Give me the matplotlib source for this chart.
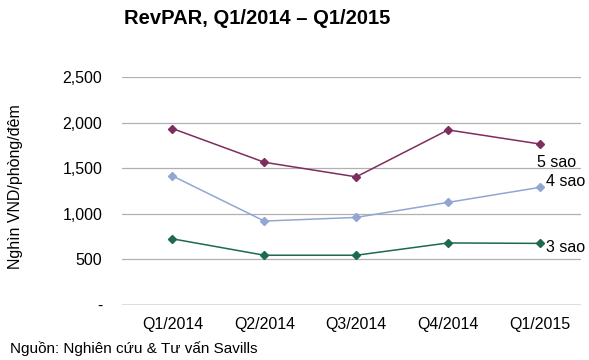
import matplotlib.pyplot as plt
from matplotlib.ticker import FuncFormatter

plt.rcParams['font.family'] = ['Liberation Sans', 'DejaVu Sans']

quarters = ['Q1/2014', 'Q2/2014', 'Q3/2014', 'Q4/2014', 'Q1/2015']
five_star = [1935, 1565, 1405, 1920, 1765]
four_star = [1415, 920, 960, 1125, 1290]
three_star = [725, 545, 545, 680, 675]

series = [
    ('5 sao', five_star, '#7E2D5E'),
    ('4 sao', four_star, '#91A7D2'),
    ('3 sao', three_star, '#1D6A4C'),
]

fig = plt.figure(figsize=(5.89, 3.6), dpi=100)
ax = fig.add_axes([0.207, 0.153, 0.78, 0.633])

x = range(len(quarters))
for name, vals, col in series:
    ax.plot(x, vals, color=col, lw=1.1, marker='D', ms=4.5, mec=col, mfc=col, zorder=3)

# series labels at the right end
ax.text(4 - 0.03, five_star[-1] - 120, '5 sao', fontsize=11.5, va='top', ha='left')
ax.text(4 + 0.06, four_star[-1] - 20, '4 sao', fontsize=11.5, va='bottom', ha='left')
ax.text(4 + 0.06, three_star[-1] - 50, '3 sao', fontsize=11.5, va='center', ha='left')

ax.set_ylim(0, 2500)
ax.set_xlim(-0.55, 4.45)
ax.set_yticks([0, 500, 1000, 1500, 2000, 2500])
ax.yaxis.set_major_formatter(FuncFormatter(lambda v, p: '-' if v == 0 else f'{int(v):,}'))
ax.set_xticks(list(x))
ax.set_xticklabels(quarters)
ax.tick_params(length=0, labelsize=11.5)
ax.tick_params(axis='x', pad=9)
ax.tick_params(axis='y', pad=14)
ax.grid(axis='y', color='#B0B0B0', lw=0.9)
ax.set_axisbelow(True)
for s in ax.spines.values():
    s.set_visible(False)
ax.axhline(0, color='#808080', lw=1.0)

ax.set_ylabel('Nghìn VND/phòng/đêm', fontsize=11.5)
ax.yaxis.set_label_coords(-0.215, 0.52)
fig.text(0.437, 0.948, 'RevPAR, Q1/2014 – Q1/2015', ha='center', va='center',
         fontsize=14.5, fontweight='bold')
fig.text(0.017, 0.033, 'Nguồn: Nghiên cứu & Tư vấn Savills', fontsize=11, ha='left', va='center')

fig.savefig('out.png', dpi=100)
